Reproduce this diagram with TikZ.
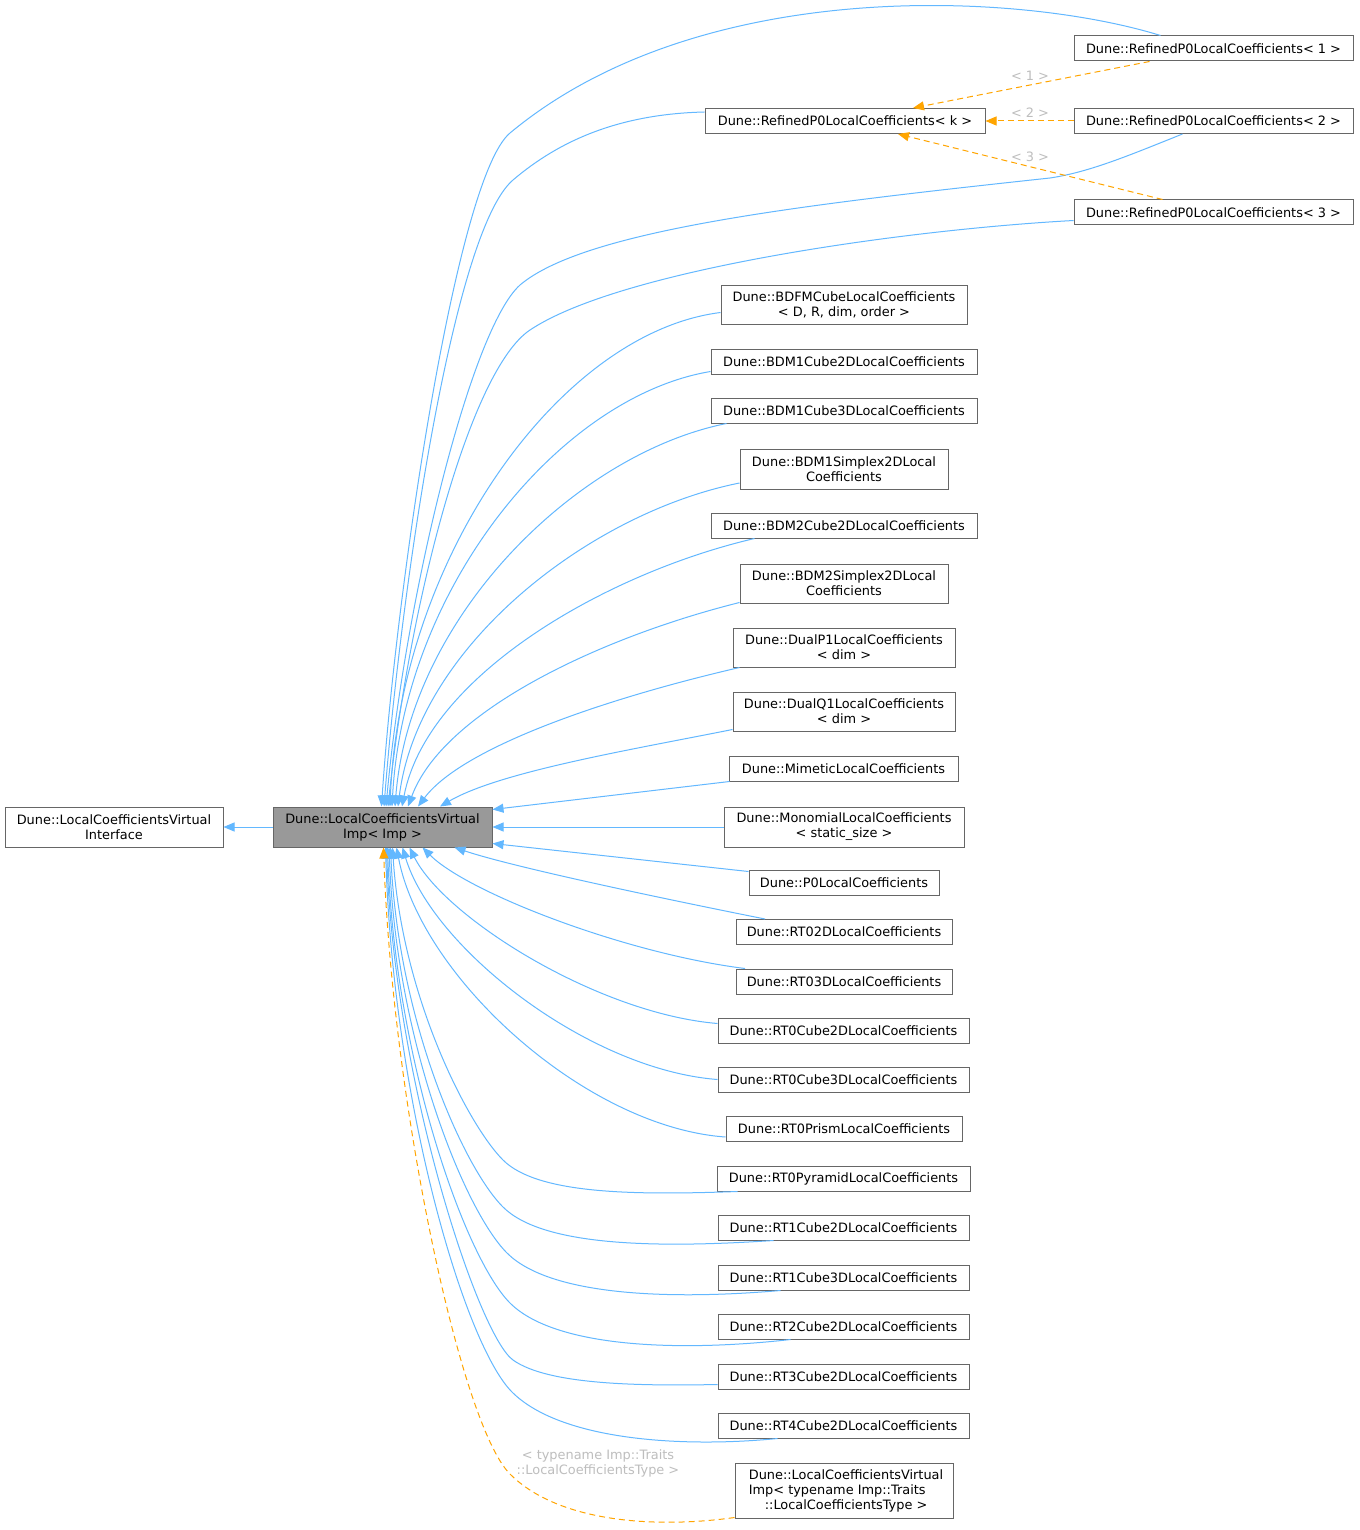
\documentclass[tikz,border=0pt]{standalone}
\usepackage{fontspec}
\setmainfont{DejaVu Sans}
\usetikzlibrary{arrows.meta,calc}
\definecolor{eblue}{HTML}{63B8FF}
\definecolor{eorange}{HTML}{FFA500}
\definecolor{bgray}{HTML}{666666}
\definecolor{fgray}{HTML}{999999}
\definecolor{lgray}{HTML}{BEBEBE}
\begin{document}
\begin{tikzpicture}[x=1pt,y=-1pt,
 box/.style={draw=bgray, line width=1pt, fill=white, inner sep=0pt, align=center, font=\fontsize{12.9}{15}\selectfont, text=black},
 inh/.style={draw=eblue, line width=1pt, -{Triangle[length=11pt,width=9pt]}},
 tmpl/.style={draw=eorange, line width=1pt, dash pattern=on 6pt off 4pt, -{Triangle[length=11pt,width=9pt]}},
 lbl/.style={text=lgray, font=\fontsize{12.9}{15}\selectfont, align=center, inner sep=0pt}]
\fill[white] (0,0) rectangle (1359,1530);
\useasboundingbox (0,0) rectangle (1359,1530);

% nodes
\node[box, minimum width=218, minimum height=40] (iface) at (114,827) {Dune::LocalCoefficientsVirtual\\Interface};
\node[box, fill=fgray, minimum width=219, minimum height=40] (imp) at (382.5,827) {Dune::LocalCoefficientsVirtual\\Imp< Imp >};
\node[box, minimum width=280, minimum height=25] (rk) at (845,121) {Dune::RefinedP0LocalCoefficients< k >};
\node[box, minimum width=279, minimum height=25] (r1) at (1213.5,48.5) {Dune::RefinedP0LocalCoefficients< 1 >};
\node[box, minimum width=279, minimum height=25] (r2) at (1213.5,121) {Dune::RefinedP0LocalCoefficients< 2 >};
\node[box, minimum width=279, minimum height=25] (r3) at (1213.5,212.5) {Dune::RefinedP0LocalCoefficients< 3 >};
\node[box, minimum width=246, minimum height=39] (bdfm) at (844,304.5) {Dune::BDFMCubeLocalCoefficients\\< D, R, dim, order >};
\node[box, minimum width=266, minimum height=25] (bdm1c2) at (844,361.5) {Dune::BDM1Cube2DLocalCoefficients};
\node[box, minimum width=266, minimum height=25] (bdm1c3) at (844,410.5) {Dune::BDM1Cube3DLocalCoefficients};
\node[box, minimum width=208, minimum height=40] (bdm1s2) at (844,469) {Dune::BDM1Simplex2DLocal\\Coefficients};
\node[box, minimum width=266, minimum height=25] (bdm2c2) at (844,525.5) {Dune::BDM2Cube2DLocalCoefficients};
\node[box, minimum width=208, minimum height=39] (bdm2s2) at (844,583.5) {Dune::BDM2Simplex2DLocal\\Coefficients};
\node[box, minimum width=222, minimum height=39] (dp1) at (844,647.5) {Dune::DualP1LocalCoefficients\\< dim >};
\node[box, minimum width=222, minimum height=39] (dq1) at (844,711.5) {Dune::DualQ1LocalCoefficients\\< dim >};
\node[box, minimum width=229, minimum height=25] (mim) at (843.5,768.5) {Dune::MimeticLocalCoefficients};
\node[box, minimum width=240, minimum height=40] (mono) at (844,827) {Dune::MonomialLocalCoefficients\\< static\_size >};
\node[box, minimum width=190, minimum height=25] (p0) at (844,882.5) {Dune::P0LocalCoefficients};
\node[box, minimum width=216, minimum height=25] (rt02) at (844,932) {Dune::RT02DLocalCoefficients};
\node[box, minimum width=216, minimum height=25] (rt03) at (844,981.5) {Dune::RT03DLocalCoefficients};
\node[box, minimum width=251, minimum height=25] (rt0c2) at (843.5,1030.5) {Dune::RT0Cube2DLocalCoefficients};
\node[box, minimum width=251, minimum height=25] (rt0c3) at (843.5,1079.5) {Dune::RT0Cube3DLocalCoefficients};
\node[box, minimum width=236, minimum height=25] (rt0pr) at (844,1129) {Dune::RT0PrismLocalCoefficients};
\node[box, minimum width=253, minimum height=25] (rt0py) at (843.5,1178.5) {Dune::RT0PyramidLocalCoefficients};
\node[box, minimum width=251, minimum height=25] (rt1c2) at (843.5,1227.5) {Dune::RT1Cube2DLocalCoefficients};
\node[box, minimum width=251, minimum height=25] (rt1c3) at (843.5,1277.5) {Dune::RT1Cube3DLocalCoefficients};
\node[box, minimum width=251, minimum height=25] (rt2c2) at (843.5,1326.5) {Dune::RT2Cube2DLocalCoefficients};
\node[box, minimum width=251, minimum height=25] (rt3c2) at (843.5,1376.5) {Dune::RT3Cube2DLocalCoefficients};
\node[box, minimum width=251, minimum height=25] (rt4c2) at (843.5,1425.5) {Dune::RT4Cube2DLocalCoefficients};
\node[box, align=left, minimum width=218, minimum height=55] (lcvt) at (844,1490.5) {\hspace*{4pt}Dune::LocalCoefficientsVirtual\\\hspace*{4pt}Imp< typename Imp::Traits\\\hspace*{20pt}::LocalCoefficientsType >};

% labels
\node[lbl] (l1) at (1030,76) {< 1 >};
\node[lbl] (l2) at (1030,113) {< 2 >};
\node[lbl] (l3) at (1030,157) {< 3 >};
\node[lbl] (l4) at (598,1463) {< typename Imp::Traits\\::LocalCoefficientsType >};

% interface edge
\draw[inh] (imp.west) -- (iface.east);

% top fan
\draw[inh] ($(r1.north)+(-53,0)$) .. controls (1020,-8) and (700,-25) .. (510,133) .. controls (455,179) and (395,600) .. ($(imp.north)+(-1,0)$);
\draw[inh] ($(rk.west)+(0,-9)$) .. controls (620,114) and (560,140) .. (513,180) .. controls (452,232) and (400,600) .. ($(imp.north)+(1.5,0)$);
\draw[inh] ($(r2.south)+(-31,0)$) .. controls (1130,155) and (1090,172) .. (1050,178) .. controls (800,205) and (585,230) .. (520,285) .. controls (470,330) and (405,600) .. ($(imp.north)+(3.5,0)$);
\draw[inh] ($(r3.west)+(0,8)$) .. controls (900,230) and (620,270) .. (530,330) .. controls (470,370) and (410,600) .. ($(imp.north)+(5.5,0)$);
\draw[inh] ($(bdfm.west)+(0,8)$) .. controls +(-160,20) and +(10,-250) .. ($(imp.north)+(7.5,0)$);
\draw[inh] ($(bdm1c2.west)+(0,10)$) .. controls +(-150,25) and +(12,-220) .. ($(imp.north)+(9.5,0)$);
\draw[inh] ($(bdm1c3.south west)+(16,0)$) .. controls +(-150,30) and +(15,-190) .. ($(imp.north)+(12.5,0)$);
\draw[inh] ($(bdm1s2.west)+(0,14)$) .. controls +(-150,30) and +(20,-160) .. ($(imp.north)+(15.5,0)$);
\draw[inh] ($(bdm2c2.south west)+(44,0)$) .. controls +(-150,35) and +(25,-130) .. ($(imp.north)+(19.5,0)$);
\draw[inh] ($(bdm2s2.west)+(0,19)$) .. controls +(-140,35) and +(35,-95) .. ($(imp.north)+(25.5,0)$);
\draw[inh] ($(dp1.south west)+(7,0)$) .. controls +(-130,30) and +(45,-60) .. ($(imp.north)+(35.5,0)$);
\draw[inh] ($(dq1.west)+(0,18)$) .. controls +(-100,20) and +(60,-35) .. ($(imp.north)+(57.5,0)$);

% right side
\draw[inh] ($(mim.south west)+(1,0)$) -- ($(imp.north east)+(0,3)$);
\draw[inh] (mono.west) -- (imp.east);
\draw[inh] ($(p0.north west)+(0,2)$) -- ($(imp.south east)+(0,-4)$);

% bottom fan
\draw[inh] ($(rt02.north)+(-79,0)$) .. controls +(-100,-20) and +(60,20) .. ($(imp.south)+(72,0)$);
\draw[inh] ($(rt03.north)+(-99,0)$) .. controls +(-120,-15) and +(45,45) .. ($(imp.south)+(40,0)$);
\draw[inh] ($(rt0c2.west)+(0,-7)$) .. controls +(-120,-10) and +(35,70) .. ($(imp.south)+(27,0)$);
\draw[inh] (rt0c3.west) .. controls +(-130,-10) and +(30,100) .. ($(imp.south)+(20,0)$);
\draw[inh] ($(rt0pr.west)+(0,8)$) .. controls +(-140,-10) and +(25,130) .. ($(imp.south)+(14,0)$);
\draw[inh] ($(rt0py.south west)+(21,0)$) .. controls (638,1195) and (538,1195) .. (503,1160) .. controls (468,1125) and (402,997) .. ($(imp.south)+(10,0)$);
\draw[inh] ($(rt1c2.south)+(-70,0)$) .. controls (660,1248) and (543,1247) .. (503,1207) .. controls (463,1167) and (398,1020) .. ($(imp.south)+(8,0)$);
\draw[inh] ($(rt1c3.south)+(-63,0)$) .. controls (670,1300) and (550,1296) .. (507,1253) .. controls (464,1210) and (396,1040) .. ($(imp.south)+(6.5,0)$);
\draw[inh] ($(rt2c2.south)+(-53,0)$) .. controls (680,1352) and (555,1348) .. (510,1303) .. controls (465,1258) and (395,1060) .. ($(imp.south)+(5,0)$);
\draw[inh] ($(rt3c2.west)+(0,8)$) .. controls (640,1386) and (548,1385) .. (513,1360) .. controls (478,1335) and (394,1080) .. ($(imp.south)+(4,0)$);
\draw[inh] ($(rt4c2.south)+(-66,0)$) .. controls (680,1448) and (560,1440) .. (512,1392) .. controls (464,1344) and (393,1100) .. ($(imp.south)+(3,0)$);

% template edges
\draw[tmpl] ($(lcvt.south west)+(0,-1)$) .. controls (660,1528) and (560,1524) .. (510,1474) .. controls (460,1424) and (392,1100) .. ($(imp.south)+(1,0)$);
\draw[tmpl] ($(r1.south)+(-64,0)$) -- ($(rk.north)+(68,0)$);
\draw[tmpl] (r2.west) -- (rk.east);
\draw[tmpl] ($(r3.north)+(-51,0)$) -- ($(rk.south)+(53,0)$);
\end{tikzpicture}
\end{document}
